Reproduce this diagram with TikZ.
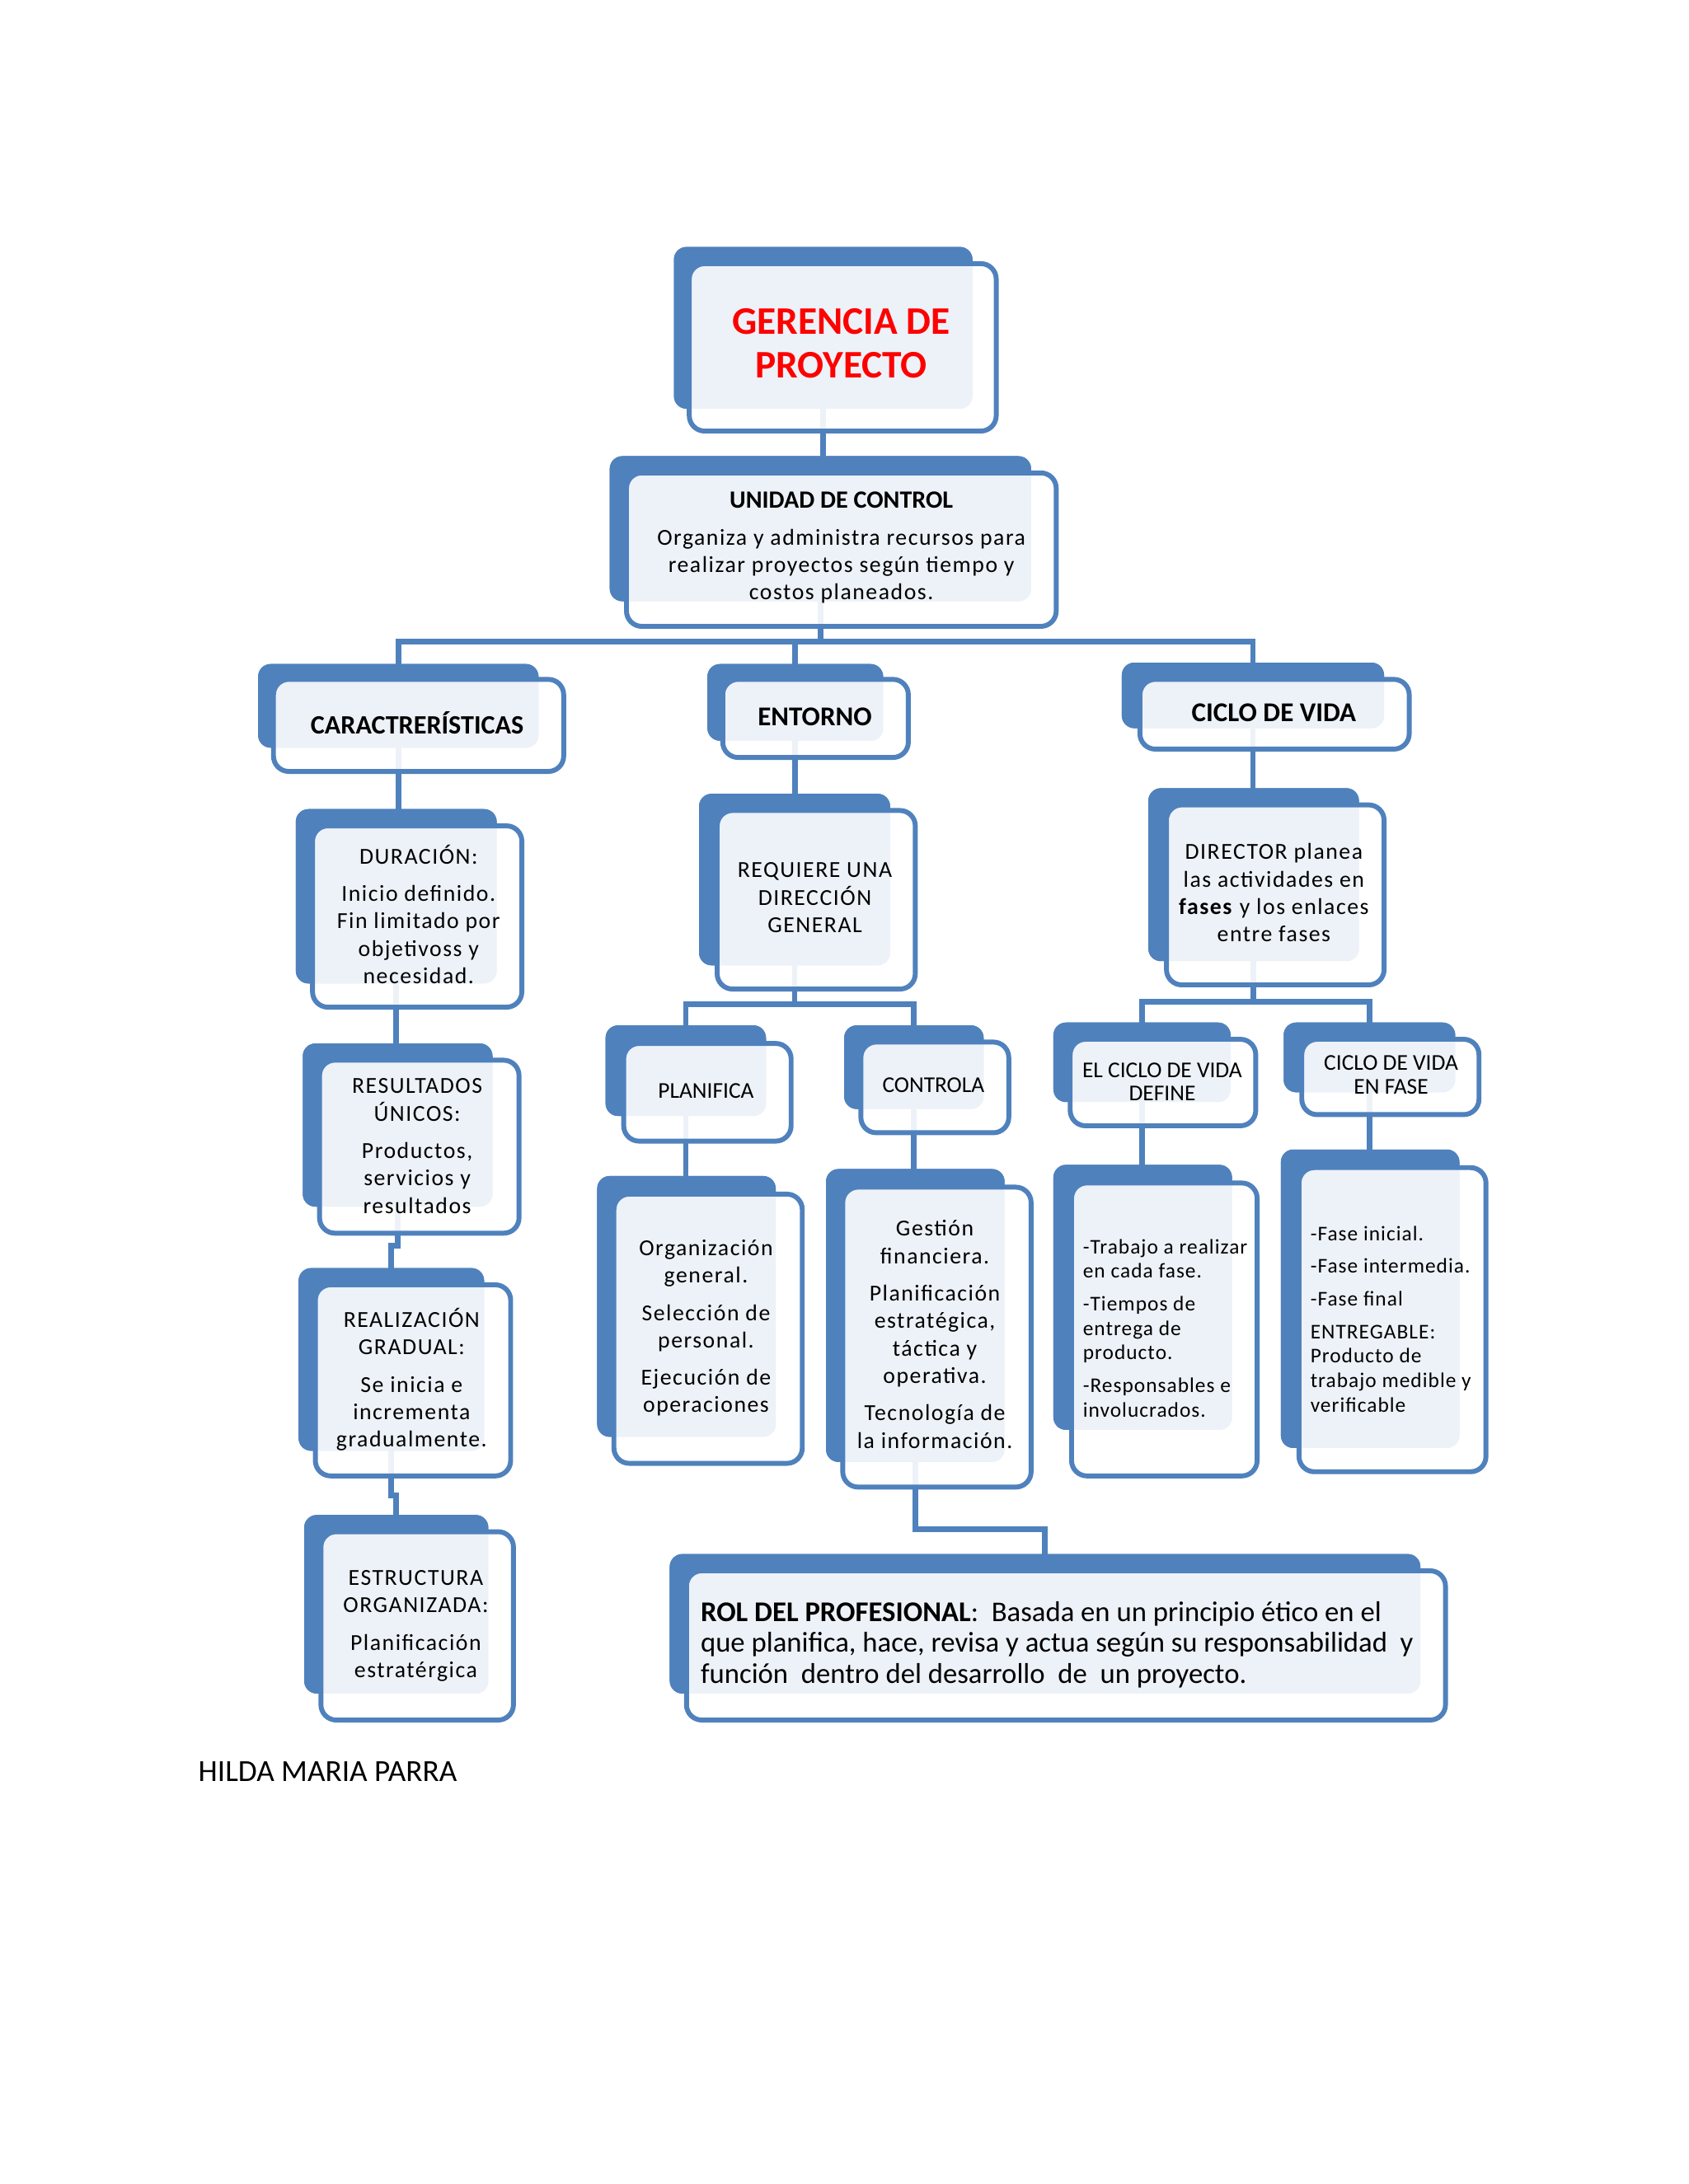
\documentclass[tikz,border=0pt]{standalone}
\usepackage{fontspec}
\setmainfont{Carlito}
\newfontfamily\spfam[LetterSpace=5.5]{Carlito}
\newfontfamily\spsmall[LetterSpace=4]{Carlito}
\definecolor{ob}{HTML}{4F81BD}
\definecolor{tred}{HTML}{FF0000}
\newcommand\ftitle{\rmfamily\fontsize{28}{31}\selectfont\bfseries}
\newcommand\fhead{\rmfamily\fontsize{17.8}{20}\selectfont\bfseries}
\newcommand\fheadb{\rmfamily\fontsize{19}{20}\selectfont\bfseries}
\newcommand\fheadc{\rmfamily\fontsize{19.5}{20}\selectfont\bfseries}
\newcommand\fbody{\spfam\fontsize{16.4}{19.7}\selectfont}
\newcommand\fsmall{\spsmall\fontsize{15}{17.5}\selectfont}
\newcommand\fcap{\rmfamily\fontsize{16.2}{17}\selectfont}
\newcommand\frol{\rmfamily\fontsize{20.5}{22}\selectfont}
\tikzset{
  backbox/.style={fill=ob, draw=none, rounded corners=9pt, inner sep=0pt, outer sep=0pt},
  frontbox/.style={draw=ob, line width=3.5pt, fill=white, fill opacity=0.9, draw opacity=1, rounded corners=11pt, inner sep=0pt, outer sep=0pt},
  conn/.style={draw=ob, line width=4pt, line join=miter},
  txt/.style={align=center, inner sep=0pt, text=black},
  ltxt/.style={align=left, inner sep=0pt, text=black, anchor=west},
}
% #1 name, #2-#5 rectangle corners (x0,y0,x1,y1)
\newcommand\backrect[5]{%
  \node[backbox, minimum width={#4-#2}, minimum height={#5-#3}] (#1b) at ({(#2+#4)/2},{(#3+#5)/2}) {};}
\newcommand\frontrect[5]{%
  \node[frontbox, minimum width={#4-#2}, minimum height={#5-#3}] (#1) at ({(#2+#4)/2},{(#3+#5)/2}) {};}
\newcommand\allback{%
\backrect{ger}{483}{177}{697}{293}
\backrect{uni}{437}{327}{739}{431}
\backrect{car}{185}{476}{386}{536}
\backrect{ent}{507}{476}{633}{531}
\backrect{cic}{804}{475}{992}{522}
\backrect{dur}{212}{580}{356}{705}
\backrect{res}{217}{748}{353}{865}
\backrect{rea}{214}{909}{347}{1040}
\backrect{est}{218}{1086}{350}{1214}
\backrect{req}{501}{569}{638}{692}
\backrect{pla}{434}{735}{549}{800}
\backrect{con}{605}{735}{705}{795}
\backrect{org}{428}{843}{556}{1030}
\backrect{ges}{592}{838}{720}{1048}
\backrect{rol}{480}{1114}{1018}{1214}
\backrect{dir}{823}{565}{974}{689}
\backrect{def}{755}{733}{882}{790}
\backrect{enf}{920}{733}{1043}{783}
\backrect{tra}{755}{835}{883}{1025}
\backrect{fas}{918}{824}{1046}{1038}}
\begin{document}
\begin{tikzpicture}[x=1pt,y=-1pt]
\useasboundingbox[fill=white] (0,0) rectangle (1210,1565.6);

% back boxes first, so that their names exist for the connectors
\allback

% ---------- connectors ----------
\coordinate (busA) at (0,460);
\coordinate (busB) at (0,720);
\coordinate (busC) at (0,1096);
\coordinate (busD) at (0,718);
\coordinate (jogA) at (0,893);
\coordinate (jogB) at (0,1072);

\draw[conn] (gerb) -- (gerb |- unib);
\draw[conn] (unib) -- (unib |- busA);
\draw[conn] (carb) -- (carb |- busA) -- (cicb |- busA) -- (cicb);
\draw[conn] (entb) -- (entb |- busA);
\draw[conn] (carb) -- (carb |- durb);
\draw[conn] (durb) -- (durb |- resb);
\draw[conn] (resb) -- (resb |- jogA) -- (reab |- jogA) -- (reab);
\draw[conn] (reab) -- (reab |- jogB) -- (estb |- jogB) -- (estb);
\draw[conn] (entb) -- (entb |- reqb);
\draw[conn] (reqb) -- (reqb |- busB);
\draw[conn] (plab) -- (plab |- busB) -- (conb |- busB) -- (conb);
\draw[conn] (plab) -- (plab |- orgb);
\draw[conn] (conb) -- (conb |- gesb);
\draw[conn] (gesb) -- (gesb |- busC) -- (rolb |- busC) -- (rolb);
\draw[conn] (cicb) -- (cicb |- dirb);
\draw[conn] (dirb) -- (dirb |- busD);
\draw[conn] (defb) -- (defb |- busD) -- (enfb |- busD) -- (enfb);
\draw[conn] (defb) -- (defb |- trab);
\draw[conn] (enfb) -- (enfb |- fasb);

% back boxes again, over the connectors
\allback

% ---------- front boxes ----------
\frontrect{ger}{494}{189}{714}{309}
\frontrect{uni}{449}{339}{757}{449}
\frontrect{car}{196}{487}{404}{553}
\frontrect{ent}{518}{487}{651}{543}
\frontrect{cic}{817}{487}{1010}{537}
\frontrect{dur}{224}{592}{374}{722}
\frontrect{res}{229}{760}{372}{884}
\frontrect{rea}{226}{921}{366}{1058}
\frontrect{est}{230}{1098}{368}{1233}
\frontrect{req}{514}{581}{656}{709}
\frontrect{pla}{447}{748}{567}{818}
\frontrect{con}{617}{747}{723}{812}
\frontrect{org}{440}{856}{575}{1049}
\frontrect{ges}{604}{851}{739}{1066}
\frontrect{rol}{492}{1126}{1036}{1233}
\frontrect{dir}{836}{577}{992}{706}
\frontrect{def}{767}{745}{900}{807}
\frontrect{enf}{933}{745}{1060}{799}
\frontrect{tra}{768}{848}{901}{1058}
\frontrect{fas}{931}{837}{1065}{1055}

% ---------- texts ----------
\node[txt, font=\ftitle, text=tred] (gert) at (603,246) {GERENCIA DE\\PROYECTO};
\node[txt, font=\fbody] (unit) at (603,392.5) {{\fhead UNIDAD DE CONTROL}\\[7pt]Organiza y administra recursos para\\realizar proyectos según tiempo y\\costos planeados.};
\node[txt, font=\fheadb] (cart) at (299,518) {CARACTRERÍSTICAS};
\node[txt, font=\fheadc] (entt) at (584,514) {ENTORNO};
\node[txt, font=\fheadc] (cict) at (913,511) {CICLO DE VIDA};
\node[txt, font=\fbody] (durt) at (300,655.5) {DURACIÓN:\\[7pt]Inicio definido.\\Fin limitado por\\objetivoss y\\necesidad.};
\node[txt, font=\fbody] (rest) at (299,821.5) {RESULTADOS\\ÚNICOS:\\[7pt]Productos,\\servicios y\\resultados};
\node[txt, font=\fbody] (reat) at (295,989) {REALIZACIÓN\\GRADUAL:\\[7pt]Se inicia e\\incrementa\\gradualmente.};
\node[txt, font=\fbody] (estt) at (298,1165.5) {ESTRUCTURA\\ORGANIZADA:\\[7pt]Planificación\\estratérgica};
\node[txt, font=\fbody] (reqt) at (584,643.5) {REQUIERE UNA\\DIRECCIÓN\\GENERAL};
\node[txt, font=\fcap] (plat) at (506,782) {PLANIFICA};
\node[txt, font=\fcap] (cont) at (669,778) {CONTROLA};
\node[txt, font=\fbody] (orgt) at (506,952) {Organización\\general.\\[7pt]Selección de\\personal.\\[7pt]Ejecución de\\operaciones};
\node[txt, font=\fbody] (gest) at (670,956.5) {Gestión\\financiera.\\[7pt]Planificación\\estratégica,\\táctica y\\operativa.\\[7pt]Tecnología de\\la información.};
\node[ltxt, font=\frol] (rolt) at (502,1179) {\textbf{ROL DEL PROFESIONAL}:\ \ Basada en un principio ético en el\\que planifica, hace, revisa y actua según su responsabilidad\ \ y\\función\ \ dentro del desarrollo\ \ de\ \ un proyecto.};
\node[txt, font=\fbody] (dirt) at (913,640) {DIRECTOR planea\\las actividades en\\\textbf{fases} y los enlaces\\entre fases};
\node[txt, font=\fcap] (deft) at (833,775.5) {EL CICLO DE VIDA\\DEFINE};
\node[txt, font=\fcap] (enft) at (997,770.5) {CICLO DE VIDA\\EN FASE};
\node[ltxt, font=\fsmall] (trat) at (776,952) {-Trabajo a realizar\\en cada fase.\\[6pt]-Tiempos de\\entrega de\\producto.\\[6pt]-Responsables e\\involucrados.};
\node[ltxt, font=\fsmall] (fast) at (939,945.5) {-Fase inicial.\\[6pt]-Fase intermedia.\\[6pt]-Fase final\\[6pt]ENTREGABLE:\\Producto de\\trabajo medible y\\verificable};
\node[ltxt, font=\rmfamily\fontsize{22}{24}\selectfont] (autor) at (142,1270) {HILDA MARIA PARRA};
\end{tikzpicture}
\end{document}
